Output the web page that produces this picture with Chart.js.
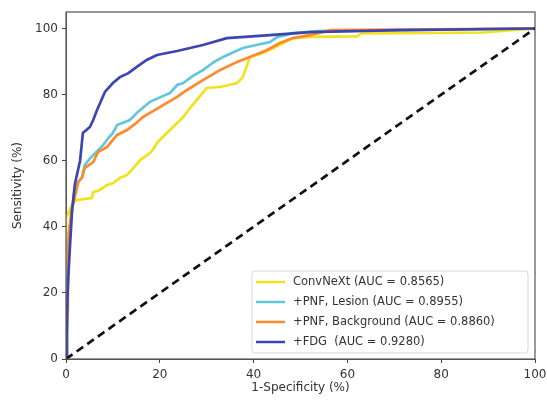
<!DOCTYPE html>
<html lang="en">
<head>
<meta charset="UTF-8">
<title>ROC curves</title>
<style>
  html, body { margin: 0; padding: 0; background: #fff; }
  #wrap { width: 547px; height: 402px; }
</style>
</head>
<body>
<div id="wrap"><canvas id="roc" width="547" height="402"></canvas></div>
<script src="https://cdn.jsdelivr.net/npm/chart.js"></script>
<script>
// values, in %
const convnextFpr = [0, 0, 0.5, 1, 1.9, 5.5, 5.8, 7, 8.7, 10, 11.5, 13, 14.5, 15.8, 17.9, 18.6, 19.4, 21.5, 22.6, 25, 26.2, 27.9, 30, 32.8, 36.5, 37.7, 38.8, 39.2, 42, 45.6, 48.4, 52, 62, 63, 89, 95, 100];
const convnextTpr = [0, 43, 44, 46, 48, 48.7, 50.5, 51, 52.6, 53.2, 54.8, 55.7, 58, 60.2, 62.3, 63.5, 65.4, 68.4, 69.9, 73.2, 75.5, 78.4, 82, 82.3, 83.5, 85.3, 89.6, 91.4, 92.6, 95, 97.1, 97.5, 97.6, 98.5, 98.8, 99.5, 100];

const lesionFpr = [0, 0.2, 0.3, 0.4, 0.8, 1.3, 1.9, 3.4, 4, 5, 6.2, 7.9, 9, 10, 10.9, 13.6, 15.5, 17.9, 22.2, 23.7, 25, 27, 29.2, 31.5, 33.5, 37.7, 43.5, 45, 48.4, 54, 100];
const lesionTpr = [0, 10, 25, 35, 40, 45, 52, 55, 58.7, 60.5, 62.3, 64.7, 66.8, 68.4, 70.8, 72.3, 75, 77.8, 80.5, 82.9, 83.5, 85.6, 87.4, 89.8, 91.4, 94.1, 95.9, 97.4, 98.6, 99.2, 100];

const backgroundFpr = [0, 0.3, 0.4, 0.6, 1.2, 1.9, 2.6, 3.4, 4, 5.8, 6.8, 8.7, 10.9, 13, 14.8, 16.4, 20, 23.7, 25.8, 29.2, 32.8, 36.5, 39.2, 42.9, 45.6, 48.4, 52, 56.3, 100];
const backgroundTpr = [0, 15, 30, 38, 45, 49, 53.6, 54.8, 57.8, 59.6, 62.6, 64.1, 67.8, 69.3, 71.2, 73.2, 76.2, 79.3, 81.4, 84.4, 87.4, 89.9, 91.4, 93.5, 95.6, 97.1, 98, 99.5, 100];

const fdgFpr = [0, 0.2, 0.3, 0.5, 0.8, 1.3, 1.9, 3, 3.6, 5.1, 5.8, 6.6, 8.3, 10, 11.5, 13.3, 15.1, 17.2, 19.4, 23.7, 29.2, 34.3, 43.5, 52, 71, 100];
const fdgTpr = [0, 8, 18, 25, 33, 45, 53, 60, 68.4, 70.2, 72.3, 75.3, 80.8, 83.5, 85.3, 86.5, 88.4, 90.5, 92, 93.2, 95, 97.1, 98, 98.9, 99.5, 100];

const chanceX = [0, 100];
const chanceY = [0, 100];

const seriesLabels = ['ConvNeXt (AUC = 0.8565)', '+PNF, Lesion (AUC = 0.8955)', '+PNF, Background (AUC = 0.8860)', '+FDG  (AUC = 0.9280)'];
const xTicks = [0, 20, 40, 60, 80, 100];
const yTicks = [0, 20, 40, 60, 80, 100];

const colors = ['#f2e21e', '#62c6de', '#ff8a2c', '#3c46b0'];

function pts(xs, ys) {
  return xs.map((x, i) => ({x: x, y: ys[i]}));
}

const textColor = '#333';
const font = {family: 'DejaVu Sans', size: 12};

// matplotlib style frame and legend box
const framePlugin = {
  id: 'frame',
  afterDatasetsDraw(chart) {
    const {ctx, chartArea: a} = chart;
    ctx.save();
    ctx.strokeStyle = '#555';
    ctx.lineWidth = 1.2;
    ctx.strokeRect(a.left, a.top, a.right - a.left, a.bottom - a.top);

    // legend in lower right
    const bx = 252, by = 271, bw = 276, bh = 82;
    ctx.fillStyle = 'rgba(255,255,255,0.85)';
    ctx.strokeStyle = '#d6d6d6';
    ctx.lineWidth = 1;
    ctx.beginPath();
    ctx.roundRect(bx, by, bw, bh, 3);
    ctx.fill();
    ctx.stroke();
    ctx.font = '11.5px "DejaVu Sans"';
    ctx.textBaseline = 'middle';
    ctx.fillStyle = textColor;
    seriesLabels.forEach((lab, i) => {
      const y = by + 11 + i * 20;
      ctx.strokeStyle = colors[i];
      ctx.lineWidth = 2.5;
      ctx.beginPath();
      ctx.moveTo(256, y);
      ctx.lineTo(285, y);
      ctx.stroke();
      ctx.fillText(lab, 293, y);
    });
    ctx.restore();
  }
};

const datasets = [
  {label: seriesLabels[0], data: pts(convnextFpr, convnextTpr), borderColor: colors[0], order: 4},
  {label: seriesLabels[1], data: pts(lesionFpr, lesionTpr), borderColor: colors[1], order: 3},
  {label: seriesLabels[2], data: pts(backgroundFpr, backgroundTpr), borderColor: colors[2], order: 2},
  {label: seriesLabels[3], data: pts(fdgFpr, fdgTpr), borderColor: colors[3], order: 1},
  {label: 'chance', data: pts(chanceX, chanceY), borderColor: '#111', borderDash: [8, 5], order: 0}
];
datasets.forEach(d => {
  d.borderWidth = 2.7;
  d.pointRadius = 0;
  d.tension = 0;
  d.fill = false;
});

new Chart(document.getElementById('roc'), {
  type: 'line',
  data: {datasets: datasets},
  options: {
    responsive: false,
    animation: false,
    layout: {padding: {left: 11, top: 12, right: 12, bottom: 0}},
    plugins: {legend: {display: false}, tooltip: {enabled: false}},
    scales: {
      x: {
        type: 'linear',
        min: 0,
        max: 100,
        afterBuildTicks: s => { s.ticks = xTicks.map(v => ({value: v})); },
        afterFit: s => { s.height = 43; s.paddingRight = 0; },
        grid: {drawOnChartArea: false, tickLength: 4, color: '#444'},
        border: {color: '#555'},
        ticks: {color: textColor, font: font, padding: 5, maxRotation: 0},
        title: {display: true, text: '1-Specificity (%)', color: textColor, font: font, padding: {top: 0, bottom: 7}}
      },
      y: {
        min: 0,
        max: 105,
        afterBuildTicks: s => { s.ticks = yTicks.map(v => ({value: v})); },
        afterFit: s => { s.width = 55; },
        grid: {drawOnChartArea: false, tickLength: 4, color: '#444'},
        border: {color: '#555'},
        ticks: {color: textColor, font: font, padding: 4},
        title: {display: true, text: 'Sensitivity (%)', color: textColor, font: font, padding: {top: 0, bottom: 4}}
      }
    }
  },
  plugins: [framePlugin]
});
</script>
</body>
</html>
